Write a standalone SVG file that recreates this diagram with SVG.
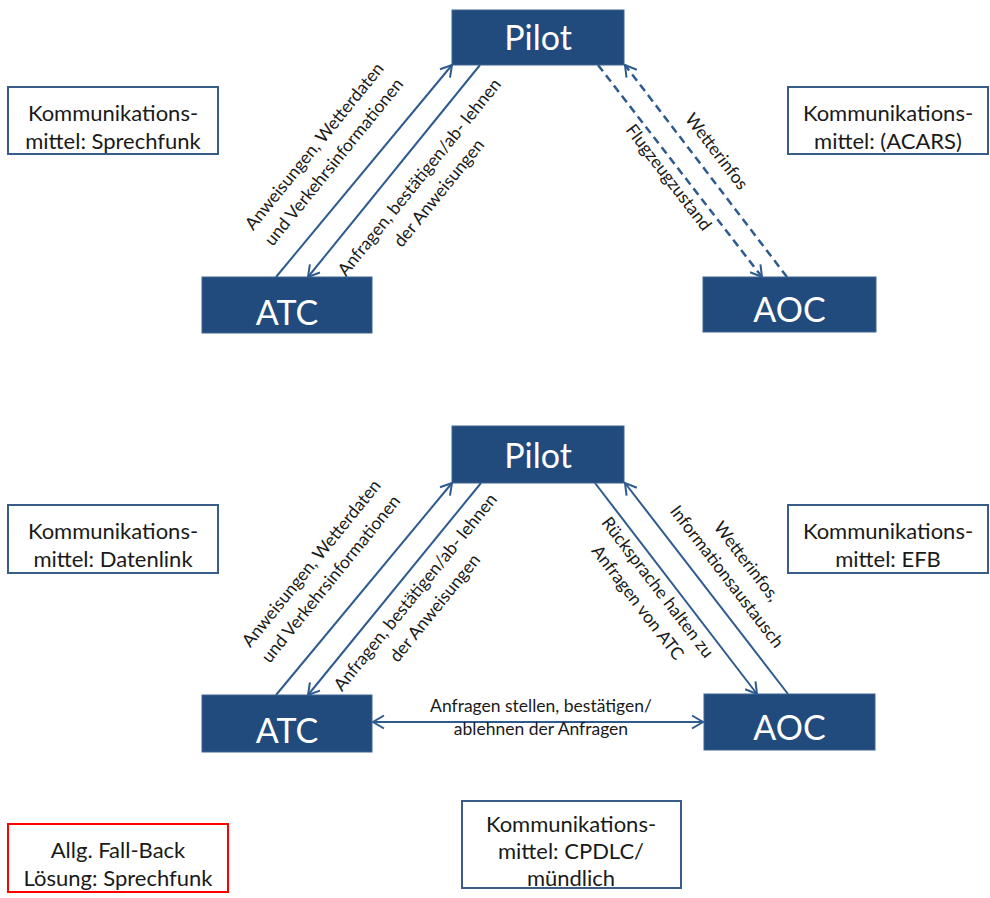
<svg xmlns="http://www.w3.org/2000/svg" width="990" height="898" viewBox="0 0 990 898">
  <defs>
    <marker id="arrow" viewBox="-13 -8 15 16" refX="0" refY="0" markerWidth="15" markerHeight="16" markerUnits="userSpaceOnUse" orient="auto-start-reverse">
      <path d="M-11,-6.5 L0,0 L-11,6.5" fill="none" stroke="#2E5B8E" stroke-width="2"/>
    </marker>
    <style>
      .node rect { fill: #214A7D; stroke: #3F6594; stroke-width: 1; }
      .node text { font-family: Lato, "Liberation Sans", sans-serif; font-size: 34px; fill: #FFFFFF; text-anchor: middle; }
      .box rect { fill: #FFFFFF; stroke: #385D8A; stroke-width: 2; }
      .box.alert rect { stroke: #FF0000; }
      .box text { font-family: Lato, "Liberation Sans", sans-serif; font-size: 22px; fill: #1A1A1A; text-anchor: middle; }
      .link { fill: none; stroke: #2E5B8E; stroke-width: 2; marker-end: url(#arrow); }
      .dashed { stroke-dasharray: 8 5; stroke-width: 2.5; }
      .both { marker-start: url(#arrow); }
      .lbl text { font-family: Lato, "Liberation Sans", sans-serif; font-size: 17.5px; fill: #1A1A1A; text-anchor: middle; }
    </style>
  </defs>

  <!-- upper scheme: nodes -->
  <g id="pilot-1" class="node"><rect x="452" y="10" width="172" height="55"/><text x="538" y="50">Pilot</text></g>
  <g id="atc-1" class="node"><rect x="202" y="277" width="170" height="56"/><text x="287" y="325">ATC</text></g>
  <g id="aoc-1" class="node"><rect x="703" y="277" width="173" height="55"/><text x="789.5" y="322">AOC</text></g>

  <!-- lower scheme: nodes -->
  <g id="pilot-2" class="node"><rect x="452" y="426" width="172" height="57"/><text x="538" y="468">Pilot</text></g>
  <g id="atc-2" class="node"><rect x="202" y="695" width="170" height="57"/><text x="287" y="743">ATC</text></g>
  <g id="aoc-2" class="node"><rect x="704" y="694" width="171" height="56"/><text x="789.5" y="740">AOC</text></g>

  <!-- info boxes -->
  <g id="medium-voice" class="box"><rect x="8" y="87" width="210" height="67"/><text x="113" y="121">Kommunikations-</text><text x="113" y="149">mittel: Sprechfunk</text></g>
  <g id="medium-acars" class="box"><rect x="788" y="87" width="200" height="67"/><text x="888" y="121">Kommunikations-</text><text x="888" y="149">mittel: (ACARS)</text></g>
  <g id="medium-datalink" class="box"><rect x="8" y="505" width="210" height="68"/><text x="113" y="539">Kommunikations-</text><text x="113" y="567">mittel: Datenlink</text></g>
  <g id="medium-efb" class="box"><rect x="788" y="505" width="200" height="68"/><text x="888" y="539">Kommunikations-</text><text x="888" y="567">mittel: EFB</text></g>
  <g id="fallback" class="box alert"><rect x="8" y="824" width="220" height="68"/><text x="118" y="858">Allg. Fall-Back</text><text x="118" y="886">Lösung: Sprechfunk</text></g>
  <g id="medium-cpdlc" class="box"><rect x="462" y="801" width="219" height="87"/><text x="571" y="832">Kommunikations-</text><text x="571" y="859">mittel: CPDLC/</text><text x="571" y="886">mündlich</text></g>

  <!-- connectors -->
  <g id="connectors">
    <path class="link" d="M276,277 L452,65"/>
    <path class="link" d="M480,65 L308,277"/>
    <path class="link dashed" d="M598,65 L762,277"/>
    <path class="link dashed" d="M787,277 L625,65"/>
    <path class="link" d="M276,695 L452,483"/>
    <path class="link" d="M481,483 L308,695"/>
    <path class="link" d="M595,483 L757,694"/>
    <path class="link" d="M788,694 L625,483"/>
    <path class="link both" d="M373,722 L703,722"/>
  </g>

  <!-- connector labels -->
  <g class="lbl">
    <g transform="translate(319,150) rotate(-51)"><text x="0" y="0">Anweisungen, Wetterdaten</text><text x="0" y="25">und Verkehrsinformationen</text></g>
    <g transform="translate(424,181) rotate(-51)"><text x="0" y="0">Anfragen, bestätigen/ab- lehnen</text><text x="0" y="25">der Anweisungen</text></g>
    <g transform="translate(712,155) rotate(52.5)"><text x="0" y="0">Wetterinfos</text></g>
    <g transform="translate(664,181) rotate(52.5)"><text x="0" y="0">Flugzeugzustand</text></g>

    <g transform="translate(316,567) rotate(-51)"><text x="0" y="0">Anweisungen, Wetterdaten</text><text x="0" y="25">und Verkehrsinformationen</text></g>
    <g transform="translate(420,596) rotate(-51)"><text x="0" y="0">Anfragen, bestätigen/ab- lehnen</text><text x="0" y="25">der Anweisungen</text></g>
    <g transform="translate(653,591) rotate(52.5)"><text x="0" y="0">Rücksprache halten zu</text><text x="0" y="25">Anfragen von ATC</text></g>
    <g transform="translate(742,565) rotate(52.5)"><text x="0" y="0">Wetterinfos,</text><text x="0" y="25">Informationsaustausch</text></g>
    <text x="541" y="712">Anfragen stellen, bestätigen/</text>
    <text x="541" y="735">ablehnen der Anfragen</text>
  </g>
</svg>
